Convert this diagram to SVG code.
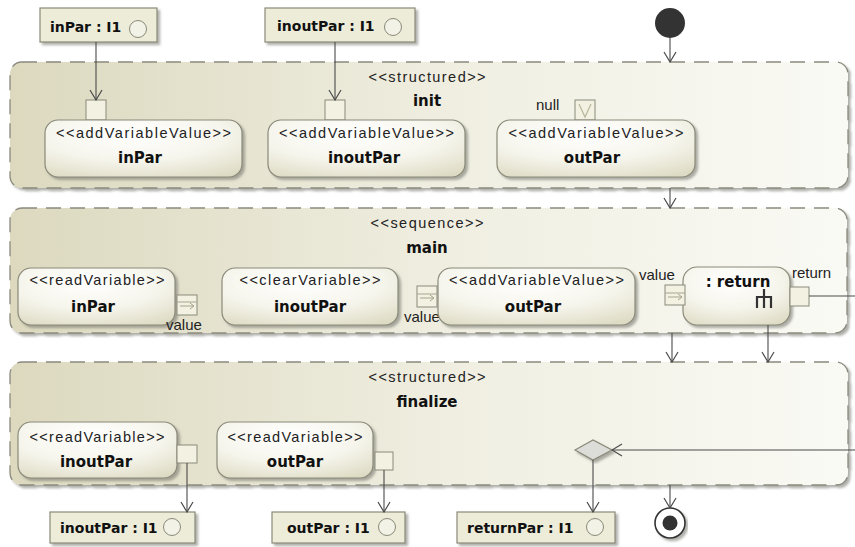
<svg xmlns="http://www.w3.org/2000/svg" width="855" height="547" viewBox="0 0 855 547">
<defs>
<style>
.region{stroke:#8a8a7e;stroke-width:1.3;stroke-dasharray:15 9;fill:url(#gReg);filter:url(#sh)}
.act{fill:url(#gAct);stroke:#8a8a7a;stroke-width:1.2;filter:url(#sh)}
.obj{fill:#edecd9;stroke:#8a8a7a;stroke-width:1.2;filter:url(#sh)}
.pin{fill:#f2f1e2;stroke:#8a8a7a;stroke-width:1}
.circ{fill:#f3f2e6;stroke:#8a8a7a;stroke-width:1}
.edge{fill:none;stroke:#4a4a4a;stroke-width:1.1}
.st{font-family:"Liberation Sans",Arial,sans-serif;font-size:14.5px;fill:#222;text-anchor:middle}
.nm{font-family:"DejaVu Sans",Verdana,sans-serif;font-size:15px;font-weight:bold;fill:#111;text-anchor:middle}
.on{font-family:"DejaVu Sans",Verdana,sans-serif;font-size:14px;font-weight:bold;fill:#111;text-anchor:start}
.lb{font-family:"Liberation Sans",Arial,sans-serif;font-size:15px;fill:#222;text-anchor:start}
</style>
<linearGradient id="gReg" x1="0" y1="0" x2="1" y2="0">
<stop offset="0" stop-color="#dcd9bf"/>
<stop offset="0.55" stop-color="#f0efe2"/>
<stop offset="1" stop-color="#fafaf5"/>
</linearGradient>
<radialGradient id="gAct" cx="0.45" cy="0.25" r="0.85">
<stop offset="0" stop-color="#ffffff"/>
<stop offset="0.55" stop-color="#f6f5ec"/>
<stop offset="1" stop-color="#dedbc4"/>
</radialGradient>
<filter id="sh" x="-5%" y="-10%" width="115%" height="130%">
<feDropShadow dx="2.5" dy="2.5" stdDeviation="1.2" flood-color="#6e6e66" flood-opacity="0.55"/>
</filter>
<marker id="arr" viewBox="0 0 12 14" refX="11" refY="7" markerWidth="12" markerHeight="14" orient="auto" markerUnits="userSpaceOnUse">
<path d="M1,1 L11,7 L1,13" fill="none" stroke="#4a4a4a" stroke-width="1.2"/>
</marker>
</defs>
<rect width="855" height="547" fill="#ffffff"/>

<!-- Regions -->
<g id="init">
<rect class="region" x="10" y="62" width="838" height="126" rx="12"/>
<text class="st" x="427" y="82" textLength="117" lengthAdjust="spacing">&lt;&lt;structured&gt;&gt;</text>
<text class="nm" x="427" y="106">init</text>
</g>
<g id="main">
<rect class="region" x="10" y="208" width="837" height="125" rx="12"/>
<text class="st" x="427" y="228" textLength="113" lengthAdjust="spacing">&lt;&lt;sequence&gt;&gt;</text>
<text class="nm" x="427" y="253">main</text>
</g>
<g id="finalize">
<rect class="region" x="10" y="362" width="838" height="123" rx="12"/>
<text class="st" x="427" y="382" textLength="117" lengthAdjust="spacing">&lt;&lt;structured&gt;&gt;</text>
<text class="nm" x="427" y="407">finalize</text>
</g>

<!-- Top object nodes -->
<g id="obj-inPar-top">
<rect class="obj" x="40" y="8" width="117" height="34"/>
<text class="on" x="50" y="32">inPar : I1</text>
<circle class="circ" cx="138" cy="29" r="8.5"/>
</g>
<g id="obj-inoutPar-top">
<rect class="obj" x="265" y="8" width="150" height="34"/>
<text class="on" x="277" y="31">inoutPar : I1</text>
<circle class="circ" cx="393" cy="27" r="8.5"/>
</g>
<g id="initial">
<circle cx="670" cy="23" r="15" fill="#333333"/>
</g>

<!-- init actions -->
<g id="init-addVar-inPar">
<rect class="pin" x="86" y="100" width="20" height="20"/>
<rect class="act" x="45" y="120" width="197" height="57" rx="13"/>
<text class="st" x="143.5" y="138" textLength="175" lengthAdjust="spacing">&lt;&lt;addVariableValue&gt;&gt;</text>
<text class="nm" x="140" y="163">inPar</text>
</g>
<g id="init-addVar-inoutPar">
<rect class="pin" x="325" y="100" width="20" height="20"/>
<rect class="act" x="268" y="120" width="197" height="57" rx="13"/>
<text class="st" x="366.5" y="138" textLength="175" lengthAdjust="spacing">&lt;&lt;addVariableValue&gt;&gt;</text>
<text class="nm" x="364" y="163">inoutPar</text>
</g>
<g id="init-addVar-outPar">
<rect class="pin" x="575" y="100" width="20" height="20"/>
<polyline points="579,104 585,117 591,104" fill="none" stroke="#b8b69c" stroke-width="1.2"/>
<text class="lb" x="536" y="110">null</text>
<rect class="act" x="497" y="120" width="198" height="57" rx="13"/>
<text class="st" x="596" y="138" textLength="175" lengthAdjust="spacing">&lt;&lt;addVariableValue&gt;&gt;</text>
<text class="nm" x="592" y="163">outPar</text>
</g>

<!-- main actions -->
<g id="main-read-inPar">
<rect class="act" x="18" y="268" width="157" height="57" rx="13"/>
<text class="st" x="97" y="285" textLength="135" lengthAdjust="spacing">&lt;&lt;readVariable&gt;&gt;</text>
<text class="nm" x="93" y="312">inPar</text>
<rect class="pin" x="177" y="295" width="20" height="20"/>
<line x1="177" y1="302" x2="197" y2="302" stroke="#a6a48e" stroke-width="1"/>
<path d="M180,306 L194,306 M190,303 L194,306 L190,309" fill="none" stroke="#a6a48e" stroke-width="1"/>
<text class="lb" x="166" y="330">value</text>
</g>
<g id="main-clear-inoutPar">
<rect class="act" x="222" y="268" width="176" height="57" rx="13"/>
<text class="st" x="310" y="285" textLength="141" lengthAdjust="spacing">&lt;&lt;clearVariable&gt;&gt;</text>
<text class="nm" x="310" y="312">inoutPar</text>
</g>
<g id="main-addVar-outPar">
<rect class="pin" x="417" y="286" width="20" height="21"/>
<line x1="417" y1="294" x2="437" y2="294" stroke="#a6a48e" stroke-width="1"/>
<path d="M420,298 L434,298 M430,295 L434,298 L430,301" fill="none" stroke="#a6a48e" stroke-width="1"/>
<text class="lb" x="404" y="322">value</text>
<rect class="act" x="438" y="268" width="197" height="57" rx="13"/>
<text class="st" x="536.5" y="285" textLength="175" lengthAdjust="spacing">&lt;&lt;addVariableValue&gt;&gt;</text>
<text class="nm" x="533" y="312">outPar</text>
</g>
<g id="main-return">
<rect class="act" x="683" y="267" width="107" height="58" rx="14"/>
<text class="nm" x="738" y="287">: return</text>
<path d="M764,289 L764,297 M757,308 L757,297 L771,297 L771,308 M764,297 L764,308" fill="none" stroke="#333" stroke-width="2.2"/>
<rect class="pin" x="665" y="285" width="20" height="20"/>
<line x1="665" y1="293" x2="685" y2="293" stroke="#a6a48e" stroke-width="1"/>
<path d="M668,297 L682,297 M678,294 L682,297 L678,300" fill="none" stroke="#a6a48e" stroke-width="1"/>
<text class="lb" x="639" y="280">value</text>
<rect class="pin" x="790" y="287" width="19" height="19"/>
<text class="lb" x="792" y="278">return</text>
</g>

<!-- finalize actions -->
<g id="fin-read-inoutPar">
<rect class="act" x="18" y="422" width="159" height="56" rx="13"/>
<text class="st" x="97" y="442" textLength="135" lengthAdjust="spacing">&lt;&lt;readVariable&gt;&gt;</text>
<text class="nm" x="96" y="467">inoutPar</text>
<rect class="pin" x="177" y="445" width="20" height="18"/>
</g>
<g id="fin-read-outPar">
<rect class="act" x="217" y="422" width="156" height="56" rx="13"/>
<text class="st" x="295" y="442" textLength="135" lengthAdjust="spacing">&lt;&lt;readVariable&gt;&gt;</text>
<text class="nm" x="295" y="467">outPar</text>
<rect class="pin" x="375" y="452" width="18" height="18"/>
</g>
<g id="decision">
<polygon points="575,450 593,440 612,450 593,460" fill="#dcdcd8" stroke="#8a8a7a" stroke-width="1.2" filter="url(#sh)"/>
</g>

<!-- bottom object nodes -->
<g id="obj-inoutPar-bottom">
<rect class="obj" x="50" y="512" width="145" height="31"/>
<text class="on" x="60" y="533">inoutPar : I1</text>
<circle class="circ" cx="172" cy="527" r="8.5"/>
</g>
<g id="obj-outPar-bottom">
<rect class="obj" x="272" y="512" width="133" height="31"/>
<text class="on" x="287" y="533">outPar : I1</text>
<circle class="circ" cx="387" cy="527" r="8.5"/>
</g>
<g id="obj-returnPar-bottom">
<rect class="obj" x="457" y="512" width="158" height="31"/>
<text class="on" x="467" y="533">returnPar : I1</text>
<circle class="circ" cx="595" cy="527" r="8.5"/>
</g>
<g id="final">
<circle cx="670" cy="523" r="15" fill="#ffffff" stroke="#333" stroke-width="1.6" filter="url(#sh)"/>
<circle cx="670" cy="523" r="7.5" fill="#333333"/>
</g>

<!-- connectors -->
<g id="connectors">
<line class="edge" x1="96" y1="42" x2="96" y2="100" marker-end="url(#arr)"/>
<line class="edge" x1="335" y1="42" x2="335" y2="100" marker-end="url(#arr)"/>
<line class="edge" x1="670" y1="38" x2="670" y2="62" marker-end="url(#arr)"/>
<line class="edge" x1="670" y1="188" x2="670" y2="208" marker-end="url(#arr)"/>
<line class="edge" x1="672" y1="333" x2="672" y2="362" marker-end="url(#arr)"/>
<line class="edge" x1="768" y1="325" x2="768" y2="362" marker-end="url(#arr)"/>
<line class="edge" x1="809" y1="296" x2="855" y2="296"/>
<line class="edge" x1="855" y1="450" x2="612" y2="450" marker-end="url(#arr)"/>
<line class="edge" x1="593" y1="460" x2="593" y2="512" marker-end="url(#arr)"/>
<line class="edge" x1="187" y1="463" x2="187" y2="512" marker-end="url(#arr)"/>
<line class="edge" x1="384" y1="470" x2="384" y2="512" marker-end="url(#arr)"/>
<line class="edge" x1="670" y1="485" x2="670" y2="508" marker-end="url(#arr)"/>
</g>
</svg>
